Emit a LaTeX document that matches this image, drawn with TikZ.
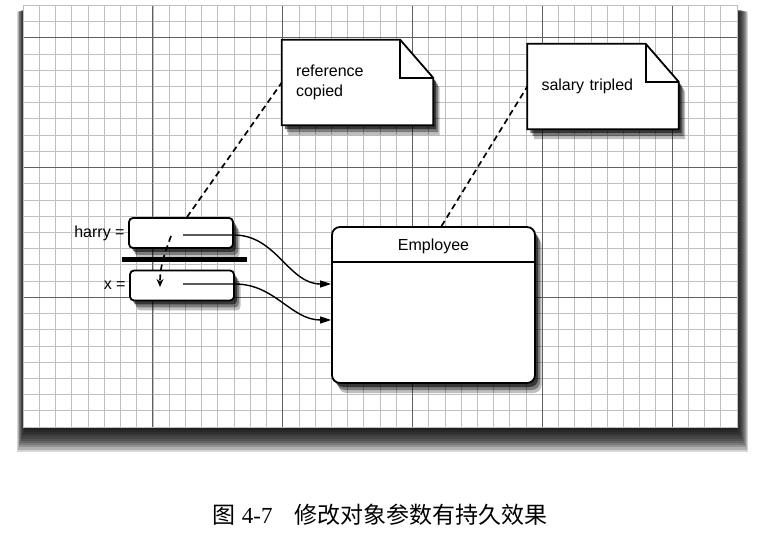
\documentclass[tikz,border=0pt]{standalone}
\usepackage{fontspec}
\setmainfont{Liberation Sans}
\newfontfamily\cjk{Noto Sans CJK SC}
\newfontfamily\numfont{Liberation Serif}
\usetikzlibrary{arrows.meta,positioning,calc,shadows}
\pgfdeclarelayer{grid}
\pgfdeclarelayer{bg}
\pgfsetlayers{grid,bg,main}

\begin{document}
\begin{tikzpicture}[x=1pt,y=1pt,font=\fontsize{16}{20}\selectfont,
  shd/.style={preaction={fill=black,opacity=.25,transform canvas={xshift=6.5pt,yshift=-10pt}},
    preaction={fill=black,opacity=.35,transform canvas={xshift=5pt,yshift=-7pt}},
    preaction={fill=black,opacity=.55,transform canvas={xshift=3pt,yshift=-4pt}}},
  refbox/.style={draw,line width=1.8pt,fill=white,rounded corners=4pt,minimum width=104pt,minimum height=30pt,shd},
  cls/.style={draw,line width=1.8pt,fill=white,rounded corners=8pt,minimum width=203pt,minimum height=156pt,shd},
  notebox/.style={minimum width=151pt,minimum height=85pt,text width=123pt,inner xsep=14pt,align=left},
  notefill/.style={draw,line width=1.8pt,fill=white,line join=miter,shd},
  minor/.style={gray!50,line width=0.6pt},
  major/.style={gray!75!black,line width=0.9pt},
  arr/.style={-{Triangle[length=11pt,width=7pt]},line width=1.4pt},
  dsh/.style={dash pattern=on 6pt off 4pt,line width=1.7pt}]
  \useasboundingbox (0,0) rectangle (759,538);
  % graph paper
  \begin{pgfonlayer}{grid}
    \foreach \k in {1,...,14}
      \fill[black,opacity=.17] (23+4-0.7*\k,111+6-2.2*\k) rectangle (736.9-4+1.1*\k,532.85-3-0.25*\k);
    \fill[white] (23,111) rectangle (736.9,532.85);
    \foreach \i in {1,...,43} \draw[minor] (23+16.225*\i,111) -- (23+16.225*\i,532.85);
    \foreach \j in {1,...,25} \draw[minor] (23,111+16.225*\j) -- (736.9,111+16.225*\j);
    \foreach \i in {8,16,24,32,40} \draw[major] (23+16.225*\i,111) -- (23+16.225*\i,532.85);
    \foreach \j in {8,16,24} \draw[major] (23,111+16.225*\j) -- (736.9,111+16.225*\j);
    \draw[minor] (23,111) rectangle (736.9,532.85);
  \end{pgfonlayer}

  \node[refbox](harry) at (181,305){};
  \node[refbox](xvar) at (182,252.5){};
  \node[left=0pt of harry](harrylbl){harry =};
  \node[left=0pt of xvar](xlbl){x =};
  \node[cls](emp) at (433.5,233){};
  \node(empname) at ($(emp.north)+(0,-20)$){Employee};
  \coordinate(hdr) at ($(emp.north)+(0,-36)$);
  \draw[line width=1.2pt](emp.west |- hdr)--(emp.east |- hdr);
  \node[notebox](refnote) at (357.5,455.5){reference\\copied};
  \node[notebox](salnote) at (603,451.5){salary tripled};
  \begin{pgfonlayer}{bg}
    \foreach \n in {refnote,salnote}{
      \draw[notefill](\n.north west)--([xshift=-33pt]\n.north east)--([yshift=-38pt]\n.north east)
        --(\n.south east)--(\n.south west)--cycle;
      \draw[line width=1.8pt,line join=miter]([xshift=-33pt]\n.north east) |- ([yshift=-38pt]\n.north east);
    }
  \end{pgfonlayer}

  \coordinate(hptr) at (183,303);
  \coordinate(xptr) at (183,254);
  \coordinate(cpy) at (171,302);
  \coordinate(cpyend) at (160,251);
  \draw[arr](hptr)--(hptr -| harry.east) to[out=0,in=180] ([yshift=21pt]emp.west);
  \draw[arr](xptr)--(xptr -| xvar.east) to[out=0,in=180] ([yshift=-15pt]emp.west);
  \draw[dsh]([xshift=6pt]harry.north)--(refnote.west);
  \draw[dsh]([xshift=8pt]emp.north)--(salnote.west);
  \draw[dsh,-{Stealth[length=8pt,width=7pt]}](cpy) to[out=-110,in=90] (cpyend);
  \node[fill=black,minimum width=125pt,minimum height=5pt,inner sep=0pt](bar) at (184.5,278){};

  \node[font=\fontsize{23}{28}\selectfont](cap) at (380,23){{\cjk 图} {\numfont 4-7}\hspace{22pt}{\cjk 修改对象参数有持久效果}};
\end{tikzpicture}
\end{document}
